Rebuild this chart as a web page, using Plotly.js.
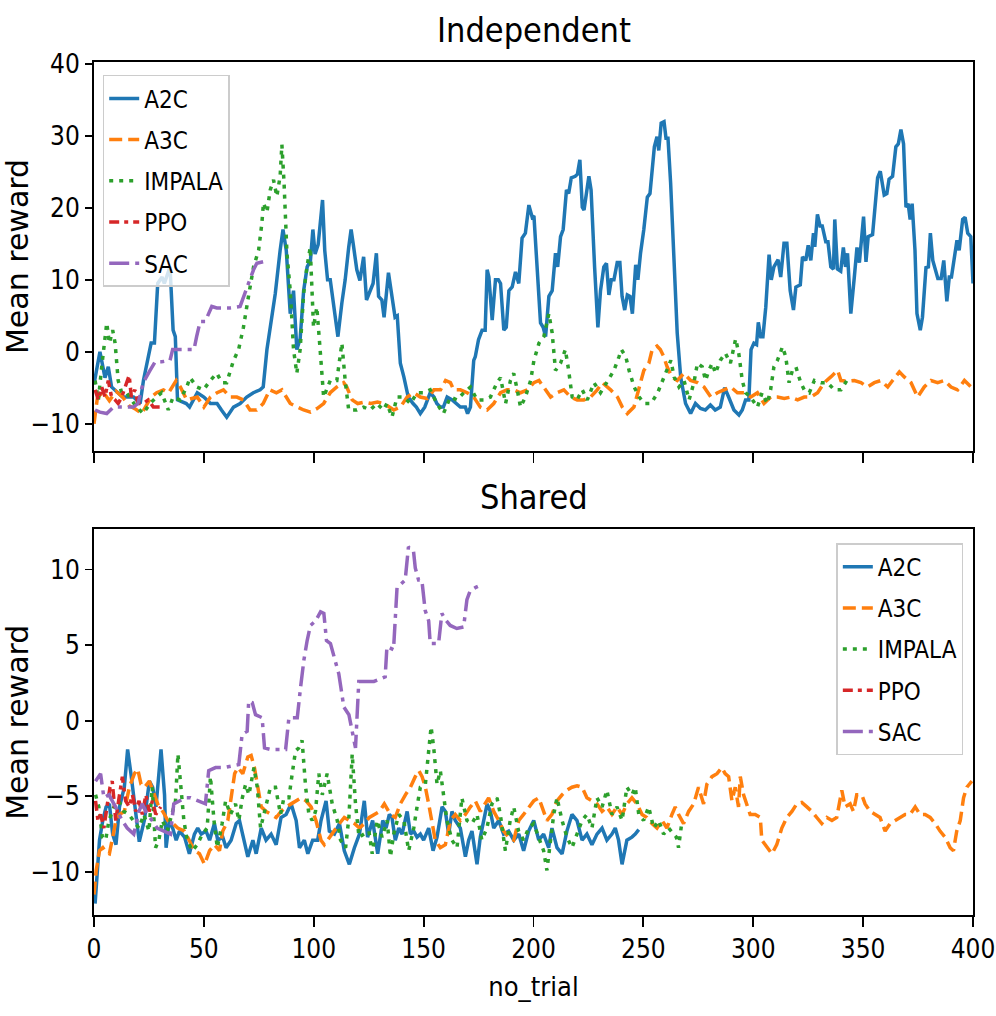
<!DOCTYPE html>
<html>
<head>
<meta charset="utf-8">
<script src="https://cdn.plot.ly/plotly-3.0.1.min.js"></script>
<style>
  html, body { margin: 0; padding: 0; background: #ffffff; }
  #chart { width: 996px; height: 1016px; }
</style>
</head>
<body>
<div id="chart"></div>
<script>
// ---------------- DATA (trial, mean reward) ----------------
const algorithms = ["A2C", "A3C", "IMPALA", "PPO", "SAC"];
const xTickValues = [0, 50, 100, 150, 200, 250, 300, 350, 400];

// Independent
const indepA2C = [[0,-4.5],[2.7,0.0],[5,-3.6],[6.5,-2.1],[8,-4.9],[13,-6.3],[18,-6.3],[21,-7.2],[22.5,-4.0],[25,-0.2],[26,1.2],[27.5,1.2],[29,9.5],[31,10.4],[32,9.5],[34.6,11.8],[36,3.0],[37,2.1],[38,-6.7],[42,-7.2],[43.5,-7.7],[47,-5.7],[50,-6.3],[53,-7.2],[56,-7.2],[58,-8.1],[60.4,-9.1],[63.5,-7.7],[66.5,-7.2],[69.5,-6.3],[72.5,-5.7],[75.6,-5.3],[77,-4.9],[78.7,0.3],[81,4.8],[82.5,8.1],[84.7,14.1],[86,17.0],[87.5,14.1],[89.3,5.3],[90.8,8.5],[92.3,0.3],[93.8,1.8],[95.4,8.5],[97,11.8],[98.5,12.7],[99.6,17.0],[100.6,13.6],[102,14.9],[104,21.1],[105,14.1],[106.3,10.0],[107.5,10.0],[110.5,3.4],[111,2.1],[112.8,6.8],[114.3,10.0],[115.9,14.5],[117,17.0],[118,14.9],[119.6,11.4],[121,9.9],[122.7,13.2],[124,7.2],[125.7,8.5],[127,9.5],[128.5,13.7],[129.5,7.7],[131,7.2],[132,4.8],[134,11.0],[135.5,7.7],[137,4.8],[138,5.0],[139.4,-1.6],[141,-3.5],[143,-6.3],[145.2,-7.2],[146.7,-7.7],[148.5,-8.6],[150.5,-7.7],[153,-5.7],[154.7,-6.3],[156,-7.2],[157.6,-7.7],[159,-7.7],[160.7,-6.3],[163,-6.7],[165,-7.2],[166.7,-7.7],[169,-7.7],[170,-8.6],[171.3,-7.7],[172.8,-1.2],[173.5,-0.7],[175,1.7],[176.6,3.0],[178,3.0],[178.9,11.4],[179.7,10.4],[181.2,4.4],[182.7,10.0],[184,10.0],[185,9.5],[186.5,3.0],[187.6,3.4],[188.8,8.5],[190.3,9.0],[191.8,11.1],[193.3,9.5],[194.8,15.8],[196.3,16.5],[197.9,20.4],[199.4,18.7],[200.2,18.9],[201.7,11.8],[203.2,4.0],[204.4,3.4],[205.5,2.1],[207,7.7],[208.5,8.5],[210,13.7],[211,11.8],[212.3,16.0],[213.5,17.0],[215,22.5],[216,22.0],[217.2,24.2],[219,24.4],[220,24.7],[221.1,26.7],[222.2,20.1],[223,19.7],[225.2,24.4],[226.2,22.5],[227.8,11.8],[229.3,3.4],[230.5,8.5],[232,11.8],[233.2,12.3],[234.3,7.9],[235.4,10.0],[236.6,10.0],[238.1,12.4],[239.3,12.4],[240.3,7.7],[241.5,5.8],[242.7,7.9],[243.9,7.7],[245,5.3],[246.5,12.1],[247.5,10.0],[248.7,13.7],[250.2,17.0],[251.8,21.5],[253,22.0],[254,25.3],[255,28.5],[256.2,29.9],[257,28.0],[258.1,31.8],[259.4,32.0],[260.3,29.7],[261.2,29.7],[262.4,23.5],[264,12.4],[265.4,2.6],[267,-3.6],[269.2,-7.2],[271.5,-8.6],[273.7,-7.2],[276,-7.9],[278.2,-8.1],[280.5,-7.4],[282.7,-8.1],[285,-7.7],[287,-5.0],[288.8,-6.3],[291.2,-8.1],[293.5,-8.8],[295,-8.1],[296.5,-6.7],[298,-6.7],[299,0.3],[300.3,1.2],[301.5,1.0],[302.3,4.1],[303.4,2.1],[304.4,2.1],[305.7,6.2],[307.2,13.5],[308.2,10.0],[309.4,11.8],[311.3,12.8],[312.5,10.4],[314,15.1],[315.3,15.1],[316.8,8.5],[318.3,5.8],[319.4,9.0],[321.4,9.3],[322.4,13.2],[323.9,12.7],[325,14.8],[326.2,12.7],[327.4,16.5],[328,14.6],[329.2,19.1],[330.4,17.5],[331.4,17.5],[333,15.3],[334,15.3],[335.3,11.8],[336.5,11.5],[337.1,18.4],[338.3,11.5],[339.8,11.2],[341,14.5],[342,11.8],[342.9,13.7],[344.4,5.3],[346,10.4],[347.2,14.5],[348.3,12.4],[349.4,16.5],[350.2,18.8],[351.3,12.5],[352.3,16.0],[354.3,16.3],[355.3,19.4],[356.6,24.2],[357.8,25.1],[359.6,21.8],[360.8,22.0],[361.8,24.0],[363.4,24.4],[364.9,28.5],[366,28.9],[367.2,30.9],[368.4,28.9],[369.5,20.1],[370.5,20.6],[371.4,18.4],[372.3,20.6],[373.6,14.1],[374.5,5.3],[376,3.0],[377,4.8],[378.6,11.7],[379.7,11.8],[380.6,16.5],[381.7,12.7],[383.2,11.2],[384,10.2],[385.5,10.2],[386.7,12.7],[388.1,7.0],[389.2,10.4],[390.2,10.4],[391.4,13.2],[392.7,15.5],[393.7,14.1],[395.3,18.4],[396.4,18.7],[397.6,16.5],[399,16.0],[400,9.5]];

const indepA3C = [[0,-10],[1.5,-6.5],[4,-5.5],[7,-6.8],[10,-5.5],[13,-6.3],[16,-7.5],[19,-8],[21.7,-8.6],[26,-6.3],[28.5,-5.7],[31.6,-5.3],[34,-5.7],[37.4,-4.0],[39.3,-4.9],[42.2,-6.7],[47,-6.3],[50,-7.7],[53,-6.3],[56,-5.7],[58.9,-5.3],[62,-6.3],[65,-6.3],[68,-6.7],[71,-8.1],[74,-8.1],[77,-7.2],[80,-5.3],[83,-5.7],[85.5,-5.3],[89.3,-7.2],[92.3,-7.7],[95.4,-8.1],[98.5,-8.4],[101.5,-7.9],[104.5,-7.2],[107.5,-5.7],[110.5,-4.9],[113.6,-4.3],[115,-4.9],[117.5,-6.7],[120,-7.2],[123,-7.0],[126,-7.2],[129,-7.0],[132,-7.2],[136.4,-8.1],[139.4,-7.7],[142.5,-6.3],[145.5,-5.7],[148.5,-6.3],[151.6,-6.5],[154.7,-5.3],[157.7,-5.3],[160,-4.0],[162.2,-4.3],[163.7,-5.3],[166.7,-5.3],[169.8,-5.7],[172.8,-6.3],[175.8,-7.7],[178.9,-8.1],[181.9,-7.2],[185,-5.7],[188,-5.3],[191.1,-5.3],[194.1,-5.7],[197.2,-5.3],[200.2,-4.3],[202.5,-4.0],[204.7,-4.9],[207.8,-6.3],[210.8,-5.7],[213.8,-5.3],[216.9,-6.3],[219.9,-6.7],[222.9,-6.7],[226,-6.3],[229,-5.3],[231.3,-4.3],[235.1,-5.3],[238.2,-6.3],[240.4,-7.7],[242.7,-8.6],[245.7,-7.7],[248,-5.3],[250.2,-2.6],[252.5,-1.6],[254,0.3],[256.2,0.8],[257.7,0.3],[259.3,-0.7],[260.8,-2.1],[263,-3.5],[265.4,-4.0],[268.5,-3.0],[271.5,-4.0],[274.6,-4.3],[277.6,-4.9],[280.7,-6.3],[283.7,-5.7],[286.7,-5.3],[289.8,-4.9],[292.8,-5.7],[295.8,-5.7],[298.9,-6.3],[301.9,-5.7],[304.9,-7.2],[308,-6.3],[311,-6.3],[314.1,-6.5],[317.1,-6.3],[320.2,-6.7],[323.2,-6.3],[326.2,-6.3],[329.3,-5.7],[332.3,-4.3],[335.3,-3.5],[338.4,-2.6],[339.9,-4.0],[342.9,-4.1],[346,-4.0],[349,-4.3],[352,-4.9],[355.1,-4.3],[358.1,-4.0],[361.2,-4.9],[363.4,-4.0],[366.5,-2.8],[368.7,-3.5],[371.8,-4.3],[374.8,-6.3],[377.8,-4.9],[380.9,-4.0],[383.9,-4.3],[387,-4.0],[390,-4.9],[393,-5.3],[396.1,-4.0],[399.1,-4.9],[400,-4.6]];

const indepIMPALA = [[0.5,-4.0],[2,-6.7],[3.5,-2.1],[5,1.7],[5.8,4.0],[7,1.2],[8.5,3.0],[9.6,1.2],[11,-4.0],[12.6,-5.7],[14.8,-5.7],[17,-6.7],[19.4,-7.7],[22.4,-8.6],[25.5,-7.2],[28.5,-6.3],[30.8,-5.7],[33.8,-8.1],[36,-6.3],[39.2,-6.7],[42.2,-4.9],[43.7,-3.6],[46.8,-4.9],[49.8,-5.3],[52.9,-4.0],[55.9,-3.0],[58.2,-4.3],[60.4,-4.3],[63.5,-1.2],[65.8,0.3],[68,3.4],[70.3,7.7],[72.6,11.8],[74.9,14.1],[76.4,17.9],[77.1,20.7],[78.7,19.4],[80.2,22.5],[81.7,23.9],[83.2,21.6],[84.7,24.4],[85.5,28.8],[86.5,23.4],[87.8,13.7],[89.3,8.5],[90.8,0.3],[92.3,-3.0],[93.8,0.3],[95.4,8.1],[96.9,11.8],[98.4,14.5],[99.9,3.4],[101.4,6.2],[102.9,0.3],[104.5,-6.3],[107.5,-4.0],[110.5,-4.0],[112.8,1.2],[114.3,-4.0],[115.9,-8.1],[119.6,-8.1],[122.7,-7.7],[125.7,-8.1],[128.7,-7.2],[131.7,-8.1],[133.3,-7.2],[135.6,-9.1],[137.9,-6.3],[141,-6.3],[144,-7.2],[147,-5.7],[150,-5.7],[153,-5.3],[156,-7.2],[159,-8.6],[162.2,-6.3],[165.2,-6.7],[168.3,-5.7],[171.3,-4.9],[174.3,-6.7],[177.4,-6.7],[180.4,-6.3],[183.4,-4.3],[185,-3.6],[187.3,-7.2],[189.5,-4.0],[191,-3.0],[192.6,-5.3],[194.1,-7.7],[196.3,-6.3],[198.7,-4.0],[200.2,-1.2],[202.5,1.2],[204.7,2.1],[207,5.3],[208.5,2.6],[210,-2.6],[212.3,-1.6],[214.5,0.3],[216,-2.6],[217.6,-6.3],[219.8,-6.7],[222.2,-5.3],[224.5,-6.7],[227.5,-4.3],[230.5,-5.7],[233.6,-4.0],[236.6,-2.6],[238.9,-0.7],[240,0.3],[242,-0.7],[243.5,-2.6],[245.8,-4.9],[248.1,-6.3],[250.4,-7.2],[253.5,-7.2],[256.5,-5.7],[259.5,-3.6],[262.5,-1.2],[264,-3.5],[266.2,-4.9],[268.5,-4.0],[270.8,-6.7],[273,-4.3],[274.6,-1.6],[276.8,-2.1],[278.3,-4.0],[279.8,-2.6],[281.3,-1.6],[282.8,-3.0],[285,-1.2],[287.3,-0.2],[289.6,-1.6],[292,1.8],[293.4,-0.2],[295,-4.0],[296.5,-5.7],[298.8,-6.3],[301.9,-7.7],[304,-5.7],[306.4,-7.2],[307.9,-5.3],[309.4,-2.1],[311,-1.2],[313.3,0.7],[314.8,-0.7],[316.3,-4.3],[317.8,-2.6],[319.4,-2.1],[321.6,-4.3],[323.2,-5.3],[325.5,-5.7],[327.8,-4.0],[330.8,-4.3],[333.8,-4.3],[336.9,-5.3],[339.9,-5.3],[342.6,-4.0]];

const indepPPO = [[0.5,-5.3],[2,-6.7],[3.5,-4.9],[5,-6.3],[6.5,-4.0],[8,-6.3],[9.6,-6.7],[11,-7.2],[12.6,-6.3],[14,-4.9],[16,-3.3],[17,-6.3],[18.6,-5.3],[20,-7.2],[22.4,-7.2],[24.7,-6.7],[27,-7.7],[29,-7.7],[30.8,-7.7]];

const indepSAC = [[0.5,-8.1],[2.7,-8.4],[5.8,-8.6],[8.8,-7.7],[13.3,-7.7],[17.9,-7.7],[20,-7.2],[22.4,-4.3],[25.5,-2.6],[27.8,-1.4],[30.8,-1.4],[34.6,-1.2],[35.8,0.3],[38.3,0.3],[42.1,0.3],[45.5,0.3],[46.7,2.1],[48.3,4.2],[50.6,4.2],[53.6,6.3],[55.9,6.1],[58.9,6.1],[61.9,6.1],[66.5,6.3],[68,7.7],[70.3,9.5],[72.6,11.4],[74.1,12.3],[77.9,12.6]];

// Shared
const sharedA2C = [[0.5,-12.1],[1.4,-9.9],[2.5,-7.9],[4,-6.6],[5.5,-5.7],[7,-5.5],[8.5,-7.5],[10,-8.2],[11.6,-5.7],[13.8,-4.4],[15.3,-1.9],[16.8,-3.5],[18.4,-5.5],[20.6,-8],[22.9,-6.6],[25.2,-4],[26.7,-4.4],[28.2,-5.7],[30.5,-1.9],[32.1,-4.9],[32.8,-8.4],[34.3,-6.6],[35.8,-7.1],[37.4,-7.9],[38.9,-7.3],[41.2,-7.7],[43.4,-8.8],[45.7,-7.5],[47.2,-7.1],[48.8,-7.5],[51,-7.3],[52.6,-7.9],[54.8,-6.8],[56.3,-7.9],[58.6,-7.7],[60.1,-8.4],[62.4,-7.9],[64.7,-6.8],[66.2,-6.6],[68.5,-8.2],[70,-9],[72.3,-7.9],[73.8,-8.8],[76.1,-7.1],[78.3,-7.9],[80.6,-7.5],[82.9,-8.2],[85.1,-6.4],[87.4,-6.2],[89.7,-5.5],[92,-6.6],[93.5,-8.4],[95.7,-7.9],[97.3,-8.8],[99.5,-7.9],[101.8,-7.9],[103.3,-6.6],[105.6,-5.3],[107.1,-7.3],[109.4,-7.5],[111.7,-6.8],[113.9,-8.6],[116.2,-9.5],[118.5,-8.4],[120.8,-7.5],[123,-5.3],[124.5,-7.7],[126.8,-6.6],[129.1,-8.8],[131.4,-6.6],[132.9,-7.1],[134.4,-6.2],[135.6,-6.4],[137.1,-7.9],[138.7,-7.1],[140.2,-7.5],[142.5,-6],[144,-7.5],[145.5,-7.3],[147,-7.7],[148.5,-7.5],[150,-7.9],[152.3,-7.1],[154.3,-8.6],[156.1,-7.7],[158.4,-5.7],[159.9,-6],[161.4,-7.5],[162.9,-6],[164.4,-6.6],[166.7,-7.1],[169,-9],[170.5,-7.9],[172,-7.3],[174.3,-9.5],[175.8,-7.7],[177.4,-6.6],[178.9,-5.5],[180.4,-6],[181.9,-7.1],[184.2,-6.6],[186.4,-7.5],[188.7,-7.3],[191,-7.9],[193.3,-7.5],[195.5,-8.6],[197.8,-7.3],[200.1,-6.6],[202.4,-7.9],[204.6,-7.5],[206.9,-8.4],[208.4,-7.1],[210.7,-8.4],[213,-8.8],[215.2,-7.3],[217.5,-6.2],[219.8,-6.6],[222.1,-7.9],[224.3,-7.5],[226.6,-8.2],[228.9,-7.5],[231.2,-7.1],[233.4,-7.9],[235.7,-7.5],[237.2,-7.1],[238.7,-7.9],[240.3,-9.5],[242.5,-7.9],[244.8,-7.7],[246.3,-7.5],[247.9,-7.2]];

const sharedA3C = [[0,-11.5],[1,-9.9],[2.5,-8.6],[4,-8.4],[5.5,-8.7],[7,-8.8],[8.5,-7.7],[10,-6.6],[11.6,-6.2],[13.8,-6],[16.1,-4.4],[18.4,-3.5],[19.9,-3.2],[21.4,-4.2],[23,-4.4],[25.2,-4],[27.5,-4.9],[29,-5.5],[31.3,-6],[33.6,-6.6],[35.9,-6.8],[38.1,-7.1],[41.2,-7.3],[43.4,-7.9],[45.7,-8.6],[48,-8.8],[50.3,-9.5],[52.6,-8.6],[54.8,-8.2],[57.1,-8.6],[58.6,-7.3],[60.9,-6.6],[62.4,-5.1],[64,-3.5],[65.5,-3.1],[67.7,-3.5],[70,-2.4],[71.5,-2.3],[73,-3.1],[74.5,-4.4],[76.1,-5.7],[78.3,-6],[80.6,-6.2],[82.9,-6.4],[85.1,-6],[87.4,-5.7],[89.7,-5.5],[92,-5.3],[94.2,-5.1],[96.5,-5.3],[98.8,-5.7],[101,-6.6],[103.3,-7.9],[104.8,-8.2],[107.1,-7.7],[109.4,-7.3],[111.7,-6.8],[113.9,-6.4],[116.2,-6.6],[118.5,-6.8],[120.8,-7.1],[123,-6.8],[125.3,-6.4],[127.6,-6.2],[129.9,-6],[132.1,-5.5],[134.9,-6.2],[137.1,-6.4],[139.4,-5.5],[141.7,-4.9],[144,-4.4],[146.2,-3.7],[147.8,-3.3],[149.3,-3.7],[150.8,-4.4],[152.3,-5.5],[153.8,-6.6],[155.3,-7.9],[157.6,-8.4],[159.9,-8.2],[162.2,-6.6],[164.4,-6.2],[166.7,-6.6],[169,-6.2],[171.3,-5.7],[173.5,-5.3],[175.8,-6],[178.1,-5.5],[179.6,-5.1],[181.9,-6],[184.2,-6.6],[186.4,-7.3],[188.7,-7.7],[191,-7.9],[193.3,-6.6],[195.5,-6.2],[197.8,-5.7],[200.1,-5.3],[202.4,-5.1],[203.9,-5.7],[206.1,-6.6],[208.4,-6.2],[210.7,-5.3],[213,-4.9],[215.2,-4.6],[217.5,-4.4],[219.8,-4.3],[222.1,-4.4],[224.3,-5.1],[226.6,-5.3],[228.9,-5.5],[231.2,-6],[233.4,-5.7],[235.7,-6.2],[238,-5.7],[240.3,-6.2],[242.5,-5.5],[244.8,-5.1],[247.1,-5.5],[249.4,-6.2],[251.6,-6.4],[253.9,-6.8],[256.2,-7.1],[258.5,-6.6],[260.7,-7.1],[263,-6.2],[264.5,-5.7],[266,-6.2],[268.3,-6.8],[270.6,-6],[272.9,-5.5],[275.1,-4.4],[277.4,-5.5],[278.9,-4.2],[281.2,-3.7],[283.5,-3.5],[285.7,-3.1],[287.2,-3.5],[288.8,-3.7],[290.3,-5.3],[291.8,-4.4],[293.3,-5.7],[294.1,-3.7],[295.6,-4.9],[297.1,-5.5],[298.6,-6.2],[300.9,-6.2],[303.2,-6.4],[303.9,-7.9],[306.2,-8.4],[308.5,-8.8],[310.7,-8.2],[313,-7.1],[315.3,-6.4],[317.6,-6],[319.8,-5.5],[322.1,-5.4],[324.4,-5.7],[326.7,-6],[328.9,-6.4],[331.2,-6.8],[333.5,-6.4],[335.8,-6.6],[338,-6.4],[340.3,-4.6],[341.8,-5.7],[344.1,-5.5],[345.6,-6],[347.1,-4.9],[349.4,-4.9],[350.9,-5.5],[353.2,-6],[355.5,-6.2],[357.7,-6.4],[360,-7.3],[362.3,-6.8],[364.6,-6.6],[366.8,-6.4],[369.1,-6.2],[371.4,-6.2],[373.7,-5.7],[375.9,-6.2],[378.2,-6.2],[380.5,-6.4],[382.8,-6.8],[385,-7.3],[387.3,-7.7],[389.6,-8.4],[391.1,-8.6],[392.6,-7.3],[394.2,-6.6],[395.7,-5.1],[397.2,-4.4],[399.5,-4]];

const sharedIMPALA = [[0.7,-4.9],[2.2,-5.7],[3.8,-7.7],[5.3,-7.9],[6.8,-6.6],[9.1,-5.7],[11.3,-5.3],[13.6,-6],[15.9,-6.2],[18.1,-6.6],[20.4,-7.1],[22.7,-6.2],[25,-7.3],[26.5,-4.4],[28,-8.4],[29.5,-7.9],[31.1,-6.6],[33.3,-7.3],[35.6,-6.2],[37.1,-5.3],[38.2,-2.2],[39.4,-4.2],[40.9,-6.6],[42.4,-7.9],[44.7,-8.6],[47,-8.2],[49.3,-7.5],[51.5,-7.1],[53,-3.7],[54.6,-6.6],[56.1,-8.4],[58.3,-6.8],[59.9,-5.3],[62.1,-6.2],[64.4,-5.5],[65.9,-6.6],[67.5,-5.1],[69,-4.2],[70.5,-4.9],[72.8,-3.1],[74.3,-4.4],[75.8,-7.1],[78.1,-5.7],[80.3,-4.4],[82.6,-4.4],[84.9,-6.2],[86.4,-5.1],[88.7,-5.1],[90.2,-3.5],[91.7,-2],[93.2,-1.8],[94.7,-1.3],[96.3,-4.4],[97.8,-6.2],[99.3,-6.6],[100.8,-6],[102.3,-3.5],[103.9,-4.9],[106.1,-3.5],[108.4,-5.5],[110.7,-6.6],[112.2,-7.9],[114.5,-8.4],[116,-6.4],[117.5,-2.2],[119,-5.5],[120.6,-7.7],[122.8,-7.5],[125.1,-7.3],[126.6,-8.8],[128.9,-6.6],[131.1,-7.7],[133.4,-6.6],[134.9,-9],[136.4,-7.5],[138.7,-6.2],[141,-6.6],[143.2,-8.6],[145.5,-7.1],[147,-5.7],[148.5,-4.4],[150.8,-4.2],[152.3,-2.2],[153.4,-0.4],[154.6,-1.8],[156.1,-4.2],[157.6,-3.3],[159.1,-4.9],[160.6,-6.6],[162.9,-7.9],[165.2,-8.4],[167.4,-5.1],[169.7,-6.6],[172,-6.8],[174.3,-6.2],[176.5,-7.9],[178.8,-7.1],[181.1,-5.5],[183.4,-5.1],[184.9,-6.2],[187.2,-8.6],[189.4,-6.6],[191,-5.7],[193.2,-7.3],[195.5,-7.9],[197.8,-7.1],[200.1,-6.8],[202.3,-7.7],[204.6,-8.6],[206.1,-9.9],[207.7,-7.9],[209.2,-6.2],[210.7,-5.1],[213,-6.6],[215.2,-7.7],[217.5,-8.4],[219.8,-7.5],[222.1,-6.6],[224.3,-6.2],[226.6,-7.1],[228.9,-5.1],[231.2,-5.7],[233.4,-4.6],[235.7,-6.2],[238,-5.7],[240.3,-6.6],[242.5,-4.4],[244.8,-4.9],[246.3,-4.4],[247.9,-6.2],[250.1,-6.6],[252.4,-5.7],[254.7,-7.1],[257,-6.6],[259.2,-7.5],[261.5,-7.1],[263.8,-7.5],[265,-7.7],[266,-8.4],[267.6,-6.6]];

const sharedPPO = [[0.7,-5.3],[1.8,-6.6],[3,-6.2],[4.5,-7.1],[6.1,-5.5],[7.3,-4.4],[8.3,-4],[9.9,-6.6],[11.4,-5.1],[12.9,-3.7],[14.4,-5.3],[16,-5.7],[17.5,-4.9],[19,-6],[20.5,-5.3],[22,-6.2],[23.6,-4.9],[25.1,-6],[26.6,-5.3],[28.1,-6.2],[30.4,-5.7]];

const sharedSAC = [[0.7,-4.0],[3,-3.5],[4.5,-5.1],[6.8,-4.9],[9.8,-5.7],[12.8,-6.6],[15.1,-7.1],[18.1,-7.5],[20.4,-6],[21.9,-5.5],[24.2,-6.2],[26.5,-6.6],[28.7,-7.1],[31.8,-7.3],[34.8,-7.5],[36.3,-5.5],[38.6,-5.3],[41.6,-5.1],[43.9,-5.1],[46.9,-5.3],[50.7,-5.5],[52.2,-3.3],[55.3,-3.1],[59,-3.1],[63.6,-3],[65.9,-2.9],[67.4,-0.9],[69.7,-0.7],[70.4,1.3],[72,1.2],[73.5,0.4],[76.5,0.2],[77.6,-1.8],[80.3,-1.9],[83.4,-1.9],[87.2,-1.9],[88.7,0.2],[92.5,0.2],[94,2.2],[95.5,4],[97,5.3],[98.5,6.3],[100.8,6.6],[103.1,7.2],[104.6,7.1],[105.8,5.3],[107.6,5.1],[109.9,4],[111.4,3.1],[113.7,0.9],[116,0.4],[117.5,-0.7],[119,-1.8],[120.5,2.6],[122.8,2.6],[127.4,2.6],[132.5,2.9],[133.3,4.9],[136.3,4.7],[137.9,8.8],[139.4,9],[141.6,9.3],[143.1,11.5],[145.4,11.2],[146.2,10.1],[147.7,9.3],[149.2,9.3],[150.7,7.3],[152.3,6.6],[153,5.1],[156.8,5.1],[158.3,7.1],[159.8,6.7],[162.1,6.3],[165.1,6.1],[168.2,6.2],[169.7,8],[171.2,8.6],[173.5,8.8],[175,8.9]];

// ---------------- STYLE ----------------
const colors = {A2C: "#1f77b4", A3C: "#ff7f0e", IMPALA: "#2ca02c", PPO: "#d62728", SAC: "#9467bd"};
const dashes = {A2C: "solid", A3C: "13px,6px", IMPALA: "4px,6px", PPO: "10px,5px,4px,5px", SAC: "20px,6px,4px,6px"};
const NARROW = "'DejaVu Sans Condensed', 'DejaVu Sans', sans-serif";

function mk(name, pairs, xa, ya, legendId) {
  return {
    type: "scatter", mode: "lines", name: name,
    x: pairs.map(p => p[0]), y: pairs.map(p => p[1]),
    xaxis: xa, yaxis: ya, legend: legendId, legendgroup: legendId + name,
    line: {color: colors[name], width: 3.5, dash: dashes[name]},
    hoverinfo: "skip"
  };
}

const indep = {A2C: indepA2C, A3C: indepA3C, IMPALA: indepIMPALA, PPO: indepPPO, SAC: indepSAC};
const shared = {A2C: sharedA2C, A3C: sharedA3C, IMPALA: sharedIMPALA, PPO: sharedPPO, SAC: sharedSAC};
const traces = [];
algorithms.forEach(a => traces.push(mk(a, indep[a], "x", "y", "legend")));
algorithms.forEach(a => traces.push(mk(a, shared[a], "x2", "y2", "legend2")));

const axisCommon = {
  showline: true, mirror: true, linecolor: "#000", linewidth: 2,
  ticks: "outside", ticklen: 7, tickwidth: 1.8, tickcolor: "#000",
  showgrid: false, zeroline: false, ticklabeloverflow: "allow",
  tickfont: {family: NARROW, size: 26, color: "#000"}
};
const legendCommon = {
  font: {family: NARROW, size: 24, color: "#000"},
  bgcolor: "rgba(255,255,255,0.8)", bordercolor: "#cccccc", borderwidth: 1.5,
  tracegroupgap: 7, traceorder: "grouped", itemwidth: 30
};

const layout = {
  width: 996, height: 1016,
  margin: {l: 94, r: 23, t: 62, b: 101},
  paper_bgcolor: "#fff", plot_bgcolor: "#fff",
  showlegend: true,
  xaxis: Object.assign({}, axisCommon, {domain: [0, 1], anchor: "y", range: [0, 400], tickvals: xTickValues, showticklabels: false, ticklen: 10, matches: "x2"}),
  yaxis: Object.assign({}, axisCommon, {domain: [0.544, 1], anchor: "x", range: [-13.8, 40.3], dtick: 10, tick0: 0,
    title: {text: "Mean reward", font: {family: "DejaVu Sans", size: 30, color: "#000"}, standoff: 8}}),
  xaxis2: Object.assign({}, axisCommon, {domain: [0, 1], anchor: "y2", range: [0, 400], tickvals: xTickValues, ticklen: 10,
    title: {text: "no_trial", font: {family: NARROW, size: 27, color: "#000"}, standoff: 14}}),
  yaxis2: Object.assign({}, axisCommon, {domain: [0, 0.452], anchor: "x2", range: [-12.85, 12.65], dtick: 5, tick0: 0,
    title: {text: "Mean reward", font: {family: "DejaVu Sans", size: 30, color: "#000"}, standoff: 8}}),
  legend: Object.assign({}, legendCommon, {x: 0.0099, y: 0.985, xanchor: "left", yanchor: "top"}),
  legend2: Object.assign({}, legendCommon, {x: 0.989, y: 0.436, xanchor: "right", yanchor: "top"}),
  annotations: [
    {text: "Independent", xref: "paper", yref: "paper", x: 0.5, y: 1.0375, xanchor: "center", yanchor: "middle", showarrow: false,
     font: {family: NARROW, size: 34, color: "#000"}},
    {text: "Shared", xref: "paper", yref: "paper", x: 0.5, y: 0.490, xanchor: "center", yanchor: "middle", showarrow: false,
     font: {family: NARROW, size: 34, color: "#000"}}
  ]
};

Plotly.newPlot("chart", traces, layout, {staticPlot: true, displayModeBar: false});
</script>
</body>
</html>
